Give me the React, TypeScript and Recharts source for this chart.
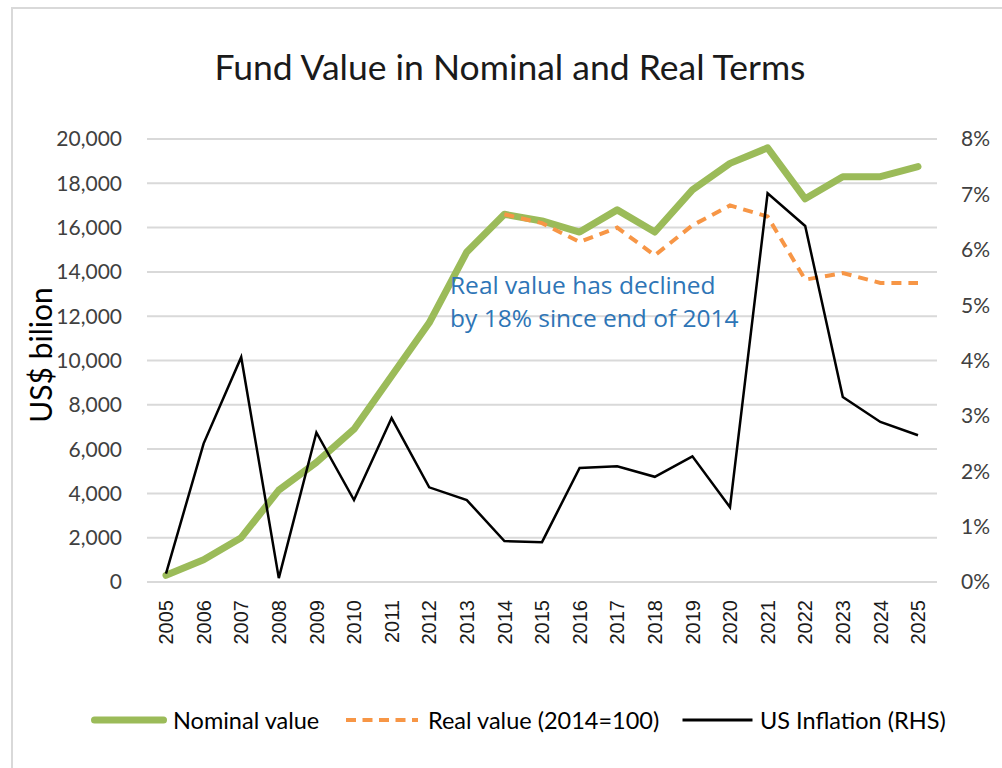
import { LineChart, Line, XAxis, YAxis, CartesianGrid } from "recharts";

const years = [
  "2005", "2006", "2007", "2008", "2009", "2010", "2011", "2012", "2013", "2014", "2015",
  "2016", "2017", "2018", "2019", "2020", "2021", "2022", "2023", "2024", "2025",
];

// US$ billion
const nominalValue = [
  300, 1000, 2000, 4150, 5400, 6900, 9300, 11700, 14900, 16600, 16300,
  15800, 16800, 15800, 17700, 18900, 19600, 17300, 18300, 18300, 18750,
];

// US$ billion, 2014 = 100
const realValue = [
  null, null, null, null, null, null, null, null, null, 16600, 16200,
  15350, 16000, 14750, 16100, 17000, 16500, 13650, 13950, 13500, 13500,
];

// percent
const usInflation = [
  0.15, 2.5, 4.06, 0.07, 2.7, 1.48, 2.96, 1.71, 1.48, 0.74, 0.72,
  2.06, 2.09, 1.9, 2.27, 1.35, 7.02, 6.43, 3.34, 2.89, 2.65,
];

const leftTicks = [0, 2000, 4000, 6000, 8000, 10000, 12000, 14000, 16000, 18000, 20000];
const rightTicks = [0, 1, 2, 3, 4, 5, 6, 7, 8];

const data = years.map((year, i) => ({
  year,
  nominal: nominalValue[i],
  real: realValue[i],
  inflation: usInflation[i],
}));

const GREEN = "#9bbb59";
const ORANGE = "#f79646";
const GRID = "#d9d9d9";
const TEXT = "#404040";
const LABEL_FONT = "Lato, 'Open Sans', sans-serif";

const YearTick = (props: any) => {
  const { x, y, payload } = props;
  return (
    <text
      transform={`translate(${x},${y + 10}) rotate(-90)`}
      textAnchor="end"
      dy="0.36em"
      fontSize={20}
      fontFamily="'Liberation Sans', Arial, sans-serif"
      fill="#1a1a1a"
    >
      {payload.value}
    </text>
  );
};

const legendItems = [
  { label: "Nominal value", color: GREEN, width: 7, dash: undefined as string | undefined, x: 91, len: 76, textX: 173 },
  { label: "Real value (2014=100)", color: ORANGE, width: 4, dash: "10 6.5", x: 344, len: 76, textX: 428 },
  { label: "US Inflation (RHS)", color: "#000", width: 3, dash: undefined, x: 681, len: 73, textX: 760 },
];

export default function App() {
  return (
    <div
      style={{
        position: "absolute",
        left: 0,
        top: 0,
        width: 1002,
        height: 768,
        overflow: "hidden",
        background: "#fff",
      }}
    >
      {/* chart frame, only top and left edges show in the crop */}
      <div
        style={{
          position: "absolute",
          left: 11,
          top: 7,
          width: 1100,
          height: 900,
          borderTop: `2px solid ${GRID}`,
          borderLeft: `2px solid ${GRID}`,
        }}
      />
      <div
        style={{
          position: "absolute",
          left: 0,
          top: 45,
          width: 1020,
          textAlign: "center",
          fontFamily: LABEL_FONT,
          fontSize: 35.5,
          color: "#1a1a1a",
        }}
      >
        Fund Value in Nominal and Real Terms
      </div>
      <div
        style={{
          position: "absolute",
          left: 40,
          top: 355,
          transform: "translate(-50%, -50%) rotate(-90deg)",
          whiteSpace: "nowrap",
          fontFamily: LABEL_FONT,
          fontSize: 30,
          color: "#000",
        }}
      >
        US$ bilion
      </div>
      <LineChart
        width={1002}
        height={768}
        data={data}
        margin={{ top: 139, right: 0, bottom: 106, left: 0 }}
        style={{ position: "absolute", left: 0, top: 0 }}
      >
        <CartesianGrid yAxisId="left" vertical={false} stroke={GRID} strokeWidth={2} />
        <XAxis
          dataKey="year"
          height={80}
          padding={{ left: 19, right: 19 }}
          tickLine={false}
          axisLine={{ stroke: GRID, strokeWidth: 2 }}
          tick={<YearTick />}
          interval={0}
        />
        <YAxis
          yAxisId="left"
          orientation="left"
          width={147}
          domain={[0, 20000]}
          ticks={leftTicks}
          tickLine={false}
          axisLine={false}
          tickMargin={19}
          tickFormatter={(v: number) => v.toLocaleString("en-US")}
          tick={{ fontSize: 21, fontFamily: LABEL_FONT, fill: TEXT }}
        />
        <YAxis
          yAxisId="right"
          orientation="right"
          width={65}
          domain={[0, 8]}
          ticks={rightTicks}
          tickLine={false}
          axisLine={false}
          tickMargin={18}
          tickFormatter={(v: number) => `${v}%`}
          tick={{ fontSize: 21, fontFamily: LABEL_FONT, fill: TEXT }}
        />
        <Line
          yAxisId="left"
          dataKey="nominal"
          stroke={GREEN}
          strokeWidth={7}
          strokeLinecap="round"
          strokeLinejoin="round"
          dot={false}
          isAnimationActive={false}
        />
        <Line
          yAxisId="left"
          dataKey="real"
          stroke={ORANGE}
          strokeWidth={4}
          strokeDasharray="10 7"
          dot={false}
          connectNulls={false}
          isAnimationActive={false}
        />
        <Line
          yAxisId="right"
          dataKey="inflation"
          stroke="#000"
          strokeWidth={2.5}
          dot={false}
          isAnimationActive={false}
        />
      </LineChart>
      <div
        style={{
          position: "absolute",
          left: 450,
          top: 268,
          fontFamily: "'Open Sans', sans-serif",
          fontSize: 24.5,
          lineHeight: "33px",
          color: "#2e75b6",
          whiteSpace: "nowrap",
        }}
      >
        Real value has declined
        <br />
        by 18% since end of 2014
      </div>
      {legendItems.map((item, i) => (
        <div key={item.label}>
          <svg
            width={item.len}
            height={30}
            style={{ position: "absolute", left: item.x, top: 705 }}
          >
            <line
              x1={item.width / 2}
              x2={item.len - item.width / 2}
              y1={15}
              y2={15}
              stroke={item.color}
              strokeWidth={item.width}
              strokeLinecap={i === 0 ? "round" : "butt"}
              strokeDasharray={item.dash}
            />
          </svg>
          <div
            style={{
              position: "absolute",
              left: item.textX,
              top: 704,
              lineHeight: "32px",
              fontFamily: LABEL_FONT,
              fontSize: 23.5,
              color: "#000",
              whiteSpace: "nowrap",
            }}
          >
            {item.label}
          </div>
        </div>
      ))}
    </div>
  );
}
